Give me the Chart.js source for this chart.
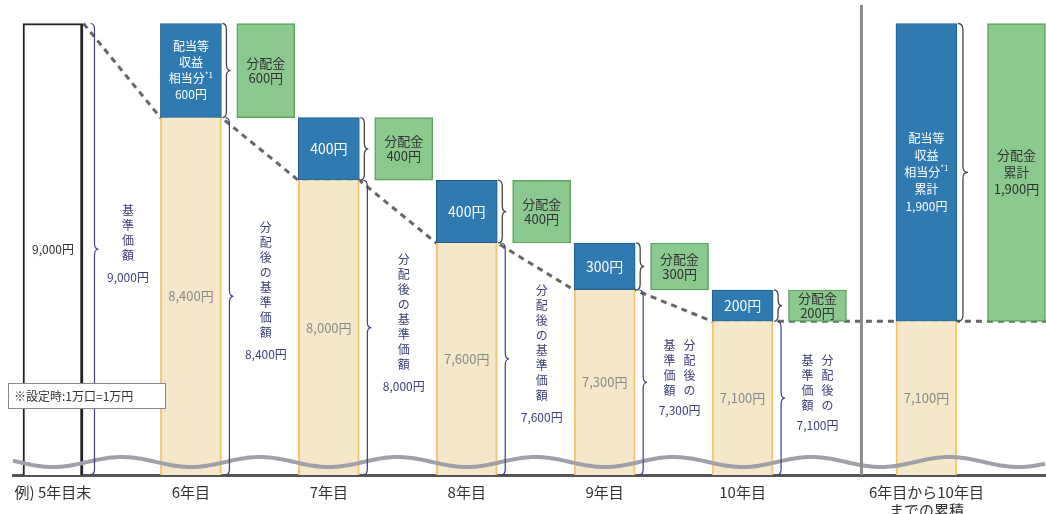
<!DOCTYPE html>
<html lang="ja">
<head>
<meta charset="utf-8">
<title>分配金と基準価額の推移（例）</title>
<script src="https://cdn.jsdelivr.net/npm/chart.js@4.4.1/dist/chart.umd.min.js"></script>
<style>
  html, body { margin: 0; padding: 0; background: #fff; }
  #wrap { position: relative; width: 1046px; height: 514px; }
</style>
</head>
<body>
<div id="wrap"><canvas id="chart"></canvas></div>
<script>
// ---------- data ----------
var YEARS = [5, 6, 7, 8, 9, 10];                       // 5 = 例) 5年目末
var YEAR_LABELS = ["例) 5年目末", "6年目", "7年目", "8年目", "9年目", "10年目"];
var NAV = [9000, 8400, 8000, 7600, 7300, 7100];        // 基準価額（分配後）
var DIST = [600, 400, 400, 300, 200];                  // 分配金（6年目〜10年目）
var CUM_LABEL = ["6年目から10年目", "までの累積"];
var CUM_DIST = 1900;                                   // 分配金累計
var NOTE = "※設定時:1万口=1万円";

// ---------- layout / style ----------
var Y_MIN = 6120, Y_MAX = 9150;      // axis is broken (wavy line) below the bars
var X_MIN = 4.71, X_MAX = 12.2;
var CUM_X = 11.333, CUM_GREEN_X = 11.986, DIVIDER_X = 10.862;
var GREEN_OFF = 0.543;               // green box sits right of each year's bar
var BAR_W = 61, GREEN_W = 58;
var FONT = "'Noto Sans CJK JP', 'Noto Sans', sans-serif";

var C = {
  blue: "#2f7ab0", blueEdge: "#1f5a88",
  green: "#8cc98e", greenEdge: "#5aa65e",
  beige: "#f5e8c8", beigeEdge: "#f6c36f",
  navy: "#3e3f7c", ink: "#333", grey: "#8a8a8a",
  dash: "#666", wave: "#a0a0a8", divider: "#8c8c8c"
};

function yen(n) { return n.toLocaleString("en-US") + "円"; }

// ---------- datasets ----------
var dist = YEARS.slice(1).map(function (y, i) { return { x: y, y: [NAV[i + 1], NAV[i]] }; });
var cumBlue = { x: CUM_X, y: [NAV[NAV.length - 1], NAV[0]] };

var baseData = [{ x: YEARS[0], y: [Y_MIN, NAV[0]] }];
var beigeData = YEARS.slice(1).map(function (y, i) { return { x: y, y: [Y_MIN, NAV[i + 1]] }; })
  .concat([{ x: CUM_X, y: [Y_MIN, NAV[NAV.length - 1]] }]);
var blueData = dist.concat([cumBlue]);
var greenData = dist.map(function (d) { return { x: d.x + GREEN_OFF, y: d.y }; })
  .concat([{ x: CUM_GREEN_X, y: cumBlue.y }]);

// dashed line joins bar edges; the flat parts hide behind the bars
var halfU = (BAR_W / 2) / 138;
var dashData = [];
YEARS.forEach(function (y, i) {
  if (i > 0) dashData.push({ x: y - halfU, y: NAV[i] });
  dashData.push({ x: y + halfU, y: NAV[i] });
});
dashData.push({ x: X_MAX, y: NAV[NAV.length - 1] });

var TICK_POS = YEARS.concat([CUM_X]);
var TICK_TXT = YEAR_LABELS.concat([CUM_LABEL]);

// ---------- drawing helpers ----------
function brace(ctx, x, y1, y2, w, color, lw) {
  var m = (y1 + y2) / 2, r = Math.min(6, (y2 - y1) / 5);
  ctx.beginPath();
  ctx.moveTo(x - w, y1);
  ctx.quadraticCurveTo(x, y1, x, y1 + r);
  ctx.lineTo(x, m - r);
  ctx.quadraticCurveTo(x, m, x + w, m);
  ctx.quadraticCurveTo(x, m, x, m + r);
  ctx.lineTo(x, y2 - r);
  ctx.quadraticCurveTo(x, y2, x - w, y2);
  ctx.strokeStyle = color; ctx.lineWidth = lw; ctx.stroke();
}

function textLine(ctx, t, x, y, size) {
  var sup = t.indexOf("*1");
  if (sup < 0) { ctx.fillText(t, x, y); return; }
  var main = t.slice(0, sup);
  ctx.font = size + "px " + FONT;
  var w1 = ctx.measureText(main).width;
  ctx.font = (size - 4) + "px " + FONT;
  var w2 = ctx.measureText("*1").width;
  var left = x - (w1 + w2) / 2;
  ctx.textAlign = "left";
  ctx.fillText("*1", left + w1, y - 4);
  ctx.font = size + "px " + FONT;
  ctx.fillText(main, left, y);
  ctx.textAlign = "center";
}

function block(ctx, arr, x, yc, pitch, size, color) {
  ctx.font = size + "px " + FONT;
  ctx.fillStyle = color; ctx.textAlign = "center"; ctx.textBaseline = "middle";
  var y0 = yc - (arr.length - 1) * pitch / 2;
  arr.forEach(function (t, i) { textLine(ctx, t, x, y0 + i * pitch, size); });
}

function vertical(ctx, str, x, y0, pitch) {
  for (var i = 0; i < str.length; i++) ctx.fillText(str[i], x, y0 + i * pitch);
}

var decor = {
  id: "decor",
  afterDatasetsDraw: function (chart) {
    var ctx = chart.ctx, xs = chart.scales.x, ys = chart.scales.y, area = chart.chartArea;
    var px = function (v) { return xs.getPixelForValue(v); };
    var py = function (v) { return ys.getPixelForValue(v); };
    var bot = area.bottom, unit = px(6) - px(5);
    ctx.save();

    // wavy break line
    ctx.beginPath();
    for (var x = area.left; x <= area.right; x += 2) {
      var yy = bot - 13 + 5 * Math.cos(2 * Math.PI * (x - px(YEARS[0])) / unit);
      if (x === area.left) ctx.moveTo(x, yy); else ctx.lineTo(x, yy);
    }
    ctx.strokeStyle = C.wave; ctx.lineWidth = 4; ctx.stroke();

    // divider before the cumulative column
    ctx.beginPath();
    ctx.moveTo(px(DIVIDER_X), 5); ctx.lineTo(px(DIVIDER_X), bot);
    ctx.strokeStyle = C.divider; ctx.lineWidth = 3; ctx.stroke();

    // base column text
    block(ctx, [yen(NAV[0])], px(YEARS[0]), (py(NAV[0]) + bot) / 2, 15, 12, C.ink);

    // nav braces + vertical captions
    YEARS.forEach(function (y, i) {
      var right = px(y) + BAR_W / 2;
      var top = py(NAV[i]);
      var bx = right + (i === 0 ? 11 : 8);
      brace(ctx, bx, top, bot, 4, C.navy, 1.2);
      var cx = px(y + 0.5) + 6;
      var mid = (top + bot) / 2 - 5;
      var cap = i === 0 ? "基準価額" : "分配後の基準価額";
      ctx.font = "12px " + FONT; ctx.fillStyle = C.navy;
      ctx.textAlign = "center"; ctx.textBaseline = "middle";
      var n, c0;
      if (i > 0 && bot - top < 200) {
        n = 4; c0 = mid - ((n - 1) * 15 + 20) / 2;
        vertical(ctx, cap.slice(0, 4), cx + 10, c0, 15);
        vertical(ctx, cap.slice(4), cx - 10, c0, 15);
        ctx.fillText(yen(NAV[i]), cx, c0 + (n - 1) * 15 + 20);
      } else {
        n = cap.length; c0 = mid - ((n - 1) * 15 + 22) / 2;
        vertical(ctx, cap, cx, c0, 15);
        ctx.fillText(yen(NAV[i]), cx, c0 + (n - 1) * 15 + 22);
      }
    });

    // beige (post-distribution NAV) labels
    beigeData.forEach(function (d) {
      block(ctx, [yen(d.y[1])], px(d.x), (py(d.y[1]) + bot) / 2, 15, 13, C.grey);
    });

    // distribution boxes
    DIST.forEach(function (v, i) {
      var d = dist[i], t = py(d.y[1]), b = py(d.y[0]);
      var blueTxt = (b - t > 80) ? ["配当等", "収益", "相当分*1", yen(v)] : [yen(v)];
      block(ctx, blueTxt, px(d.x), (t + b) / 2, 16, blueTxt.length > 1 ? 12 : 14, "#fff");
      block(ctx, ["分配金", yen(v)], px(d.x + GREEN_OFF), (t + b) / 2, 15, 13, C.ink);
      brace(ctx, px(d.x) + BAR_W / 2 + 5, t, b, 4, "#444", 1.3);
    });

    // cumulative column
    var ct = py(cumBlue.y[1]), cb = py(cumBlue.y[0]);
    block(ctx, ["配当等", "収益", "相当分*1", "累計", yen(CUM_DIST)], px(CUM_X), (ct + cb) / 2, 17, 12, "#fff");
    block(ctx, ["分配金", "累計", yen(CUM_DIST)], px(CUM_GREEN_X), (ct + cb) / 2, 17, 13, C.ink);
    brace(ctx, px(CUM_X) + BAR_W / 2 + 6, ct, cb, 5, "#444", 1.3);

    // note box
    ctx.font = "12px " + FONT;
    ctx.fillStyle = "#fff"; ctx.fillRect(8.5, bot - 91.5, 157, 25);
    ctx.strokeStyle = "#888"; ctx.lineWidth = 1; ctx.strokeRect(8.5, bot - 91.5, 157, 25);
    ctx.fillStyle = C.ink; ctx.textAlign = "left"; ctx.textBaseline = "middle";
    ctx.fillText(NOTE, 14, bot - 79);

    ctx.restore();
  }
};

// ---------- chart ----------
new Chart(document.getElementById("chart"), {
  type: "bar",
  data: {
    datasets: [
      { type: "line", data: dashData, order: 10, borderColor: C.dash, borderWidth: 3,
        borderDash: [6, 5], pointRadius: 0, tension: 0 },
      { data: baseData, order: 1, grouped: false, barThickness: 60, backgroundColor: "#fff",
        borderColor: "#222", borderWidth: { top: 2, left: 2, right: 3, bottom: 0 }, borderSkipped: false },
      { data: beigeData, order: 1, grouped: false, barThickness: BAR_W, backgroundColor: C.beige,
        borderColor: C.beigeEdge, borderWidth: { top: 0, left: 2, right: 2, bottom: 0 }, borderSkipped: false },
      { data: blueData, order: 1, grouped: false, barThickness: BAR_W, backgroundColor: C.blue,
        borderColor: C.blueEdge, borderWidth: 1, borderSkipped: false },
      { data: greenData, order: 1, grouped: false, barThickness: GREEN_W, backgroundColor: C.green,
        borderColor: C.greenEdge, borderWidth: 1.5, borderSkipped: false }
    ]
  },
  options: {
    responsive: true, maintainAspectRatio: false, animation: false,
    layout: { padding: { left: 13, right: 0, top: 0, bottom: 0 } },
    plugins: { legend: { display: false }, tooltip: { enabled: false } },
    scales: {
      x: {
        type: "linear", min: X_MIN, max: X_MAX, offset: false,
        grid: { display: false, drawTicks: false },
        border: { display: true, color: "#555", width: 3 },
        afterBuildTicks: function (axis) { axis.ticks = TICK_POS.map(function (v) { return { value: v }; }); },
        afterFit: function (axis) { axis.height = 39; },
        ticks: {
          autoSkip: false, maxRotation: 0, padding: 9, color: C.ink,
          font: { family: FONT, size: 15, lineHeight: 1.15 },
          callback: function (v, i) { return TICK_TXT[i]; }
        }
      },
      y: { display: false, min: Y_MIN, max: Y_MAX }
    }
  },
  plugins: [decor]
});
</script>
</body>
</html>
